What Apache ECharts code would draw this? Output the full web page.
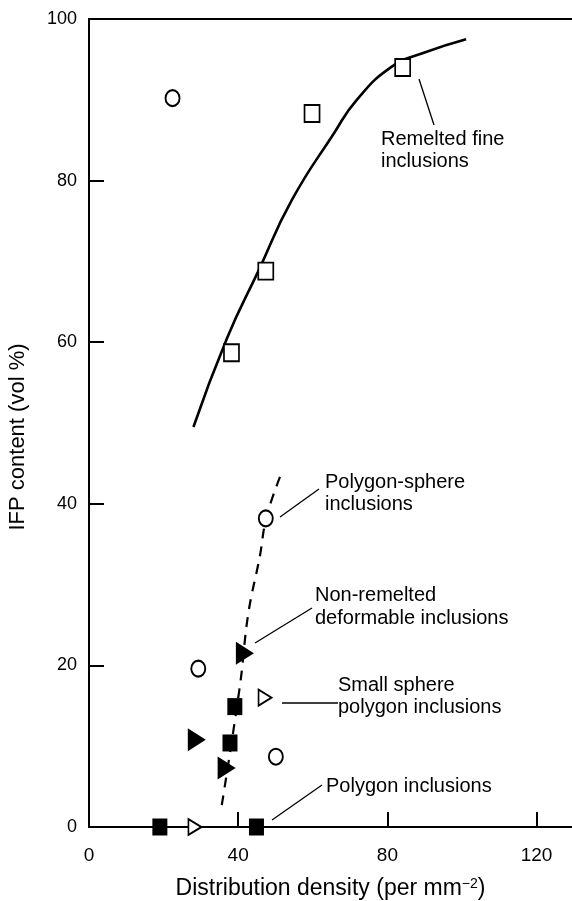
<!DOCTYPE html>
<html>
<head>
<meta charset="utf-8">
<script src="https://cdn.jsdelivr.net/npm/echarts@6/dist/echarts.min.js"></script>
<style>
html,body{margin:0;padding:0;background:#fff;}
#c{width:572px;height:901px;}
</style>
</head>
<body>
<div id="c"></div>
<script>
// ---- data ----
var xTicks = [0, 40, 80, 120];
var yTicks = [0, 20, 40, 60, 80, 100];
var openSquares = [[38.2,58.7],[47.4,68.8],[59.8,88.3],[84.1,94.0]];
var openCircles = [[22.4,90.2],[47.4,38.2],[29.3,19.6],[50.1,8.7]];
var filledTriangles = [[41.8,21.5],[28.9,10.8],[36.9,7.3]];
var filledSquares = [[39.1,14.9],[37.8,10.4],[19.0,0],[44.9,0]];
var openTriangles = [[47.2,16.0],[28.4,0]];
var remeltedCurve = [[28.0,49.5],[37.0,60.5],[45.4,68.8],[54.4,77.6],[65.6,85.8],[71.8,90.0],[81.2,94.1],[89.6,95.8],[101.1,97.5]];
var polySphereCurve = [[35.6,2.7],[40.5,17.6],[42.7,26.4],[45.8,33.5],[47.6,38.4],[51.6,43.8]];
var annotations = [
  {text: 'Remelted fine\ninclusions'},
  {text: 'Polygon-sphere\ninclusions'},
  {text: 'Non-remelted\ndeformable inclusions'},
  {text: 'Small sphere\npolygon inclusions'},
  {text: 'Polygon inclusions'}
];

var FONT = '"Liberation Sans", Arial, Helvetica, sans-serif';
var chart = echarts.init(document.getElementById('c'), null, {renderer: 'canvas'});

function txt(left, top, s, lh) {
  return {type: 'text', left: left, top: top, z: 10,
    style: {text: s, font: '20px ' + FONT, fill: '#000', lineHeight: lh || 22}};
}
function seg(x1, y1, x2, y2) {
  return {type: 'line', z: 10, shape: {x1: x1, y1: y1, x2: x2, y2: y2},
    style: {stroke: '#000', lineWidth: 1.3}};
}

var option = {
  animation: false,
  backgroundColor: '#fff',
  grid: {left: 89, right: 0, top: 19, bottom: 74, containLabel: false, outerBoundsMode: 'none'},
  xAxis: [{
    type: 'value', min: 0, max: 129.5, position: 'bottom',
    axisLine: {show: true, lineStyle: {color: '#000', width: 2}},
    axisTick: {show: true, inside: true, length: 15, customValues: xTicks, lineStyle: {color: '#000', width: 2}},
    axisLabel: {margin: 19, color: '#000', fontSize: 19, fontFamily: FONT, customValues: xTicks},
    splitLine: {show: false},
    name: '{a|Distribution density (per mm}{s|−2}{a|)}',
    nameLocation: 'middle', nameGap: 50,
    nameTextStyle: {rich: {
      a: {fontSize: 23, fontFamily: FONT, color: '#000'},
      s: {fontSize: 14, fontFamily: FONT, color: '#000', verticalAlign: 'top', padding: [0,0,10,0]}
    }}
  }, {
    type: 'value', min: 0, max: 129.5, position: 'top',
    axisLine: {show: true, lineStyle: {color: '#000', width: 2}},
    axisTick: {show: false}, axisLabel: {show: false}, splitLine: {show: false}
  }],
  yAxis: {
    type: 'value', min: 0, max: 100, interval: 20,
    axisLine: {show: true, lineStyle: {color: '#000', width: 2}},
    axisTick: {show: true, inside: true, length: 15, customValues: yTicks, lineStyle: {color: '#000', width: 2}},
    axisLabel: {margin: 12, color: '#000', fontSize: 18, fontFamily: FONT, customValues: yTicks},
    splitLine: {show: false}
  },
  series: [
    {type: 'line', data: remeltedCurve, smooth: 0.5, symbol: 'none', z: 2,
      lineStyle: {color: '#000', width: 2.6}},
    {type: 'line', data: polySphereCurve, smooth: 0.4, symbol: 'none', z: 2,
      lineStyle: {color: '#000', width: 2.2, type: [10, 8]}},
    {type: 'scatter', data: openSquares, symbol: 'rect', symbolSize: [15, 17], z: 3,
      itemStyle: {color: '#fff', borderColor: '#000', borderWidth: 1.8, opacity: 1}},
    {type: 'scatter', data: openCircles, symbol: 'circle', symbolSize: [14, 16], z: 3,
      itemStyle: {color: '#fff', borderColor: '#000', borderWidth: 2, opacity: 1}},
    {type: 'scatter', data: filledTriangles, symbol: 'triangle', symbolRotate: -90, symbolSize: [23, 18], z: 3,
      itemStyle: {color: '#000', opacity: 1}},
    {type: 'scatter', data: filledSquares, symbol: 'rect', symbolSize: [15, 17], z: 3,
      itemStyle: {color: '#000', opacity: 1}},
    {type: 'scatter', data: openTriangles, symbol: 'triangle', symbolRotate: -90, symbolSize: [16, 13], z: 3,
      itemStyle: {color: '#fff', borderColor: '#000', borderWidth: 1.8, opacity: 1}}
  ],
  graphic: [
    {type: 'text', z: 10, x: 18, y: 437, rotation: Math.PI / 2,
      style: {text: 'IFP content (vol %)', font: '22px ' + FONT, fill: '#000', align: 'center', verticalAlign: 'middle'}},
    txt(381, 128, annotations[0].text),
    seg(419, 79, 434, 125),
    txt(325, 471, annotations[1].text),
    seg(319, 489, 280, 517),
    txt(315, 584, annotations[2].text, 23),
    seg(312, 608, 255, 643),
    txt(338, 674, annotations[3].text),
    seg(282, 703, 338, 703),
    txt(326, 775, annotations[4].text),
    seg(322, 785, 272, 820)
  ]
};
chart.setOption(option);
</script>
</body>
</html>
